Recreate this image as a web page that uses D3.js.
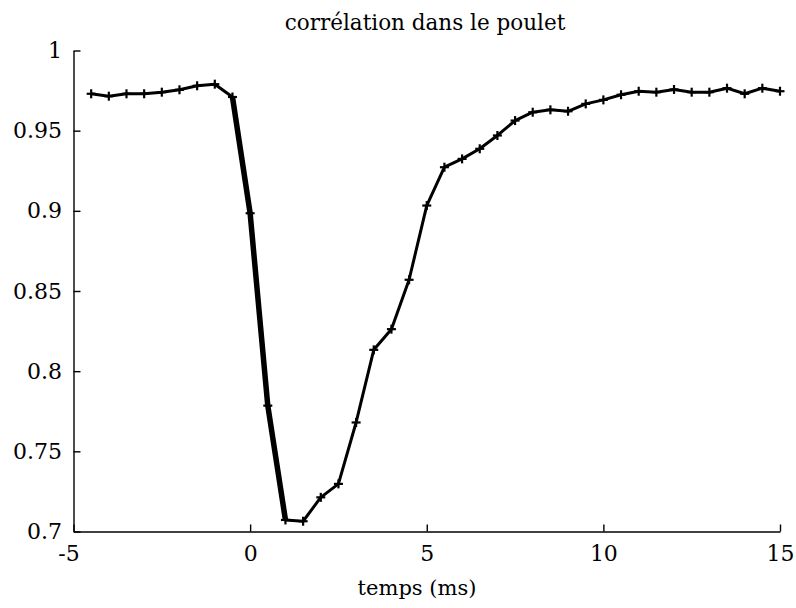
<!DOCTYPE html>
<html>
<head>
<meta charset="utf-8">
<script src="https://cdn.jsdelivr.net/npm/d3@7"></script>
<style>
  html, body { margin: 0; padding: 0; background: #fff; }
  svg { display: block; }
</style>
</head>
<body>
<svg id="chart" width="796" height="608"></svg>
<script>
// ---- data ----
const timeMs = [-4.5, -4.0, -3.5, -3.0, -2.5, -2.0, -1.5, -1.0, -0.5, 0.0,
                0.5, 1.0, 1.5, 2.0, 2.5, 3.0, 3.5, 4.0, 4.5, 5.0,
                5.5, 6.0, 6.5, 7.0, 7.5, 8.0, 8.5, 9.0, 9.5, 10.0,
                10.5, 11.0, 11.5, 12.0, 12.5, 13.0, 13.5, 14.0, 14.5, 15.0];
const correlation = [0.973, 0.9715, 0.973, 0.973, 0.974, 0.9755, 0.978, 0.979, 0.971, 0.8985,
                     0.7785, 0.7072, 0.7064, 0.7213, 0.7297, 0.768, 0.8133, 0.8262, 0.857, 0.9033,
                     0.9272, 0.9324, 0.9387, 0.947, 0.9563, 0.9615, 0.963, 0.9621, 0.9667, 0.9692,
                     0.9724, 0.9746, 0.974, 0.9757, 0.974, 0.974, 0.9765, 0.973, 0.9765, 0.9746];
const xTicks = [-5, 0, 5, 10, 15];
const yTicks = [0.7, 0.75, 0.8, 0.85, 0.9, 0.95, 1];
const xDomain = [-5, 15];
const yDomain = [0.7, 1];
const titleText = "corrélation dans le poulet";
const xLabelText = "temps (ms)";

// ---- layout ----
const svg = d3.select("#chart");
const plotLeft = 73.5, plotRight = 780, plotTop = 50.5, plotBottom = 531.5;
const titleSize = 21.5, xLabelSize = 21, tickSize = 22;
const fontFam = "'DejaVu Serif', serif";

const x = d3.scaleLinear().domain(xDomain).range([plotLeft, plotRight]);
const y = d3.scaleLinear().domain(yDomain).range([plotBottom, plotTop]);

// axes (MATLAB style inward ticks, no box)
const xAxis = d3.axisBottom(x).tickValues(xTicks).tickFormat(d => String(d))
  .tickSizeInner(-7).tickSizeOuter(0).tickPadding(14);
const yAxis = d3.axisLeft(y).tickValues(yTicks).tickFormat(d => String(d))
  .tickSizeInner(-7).tickSizeOuter(0).tickPadding(11.5);

const gx = svg.append("g").attr("transform", `translate(0,${plotBottom})`).call(xAxis);
const gy = svg.append("g").attr("transform", `translate(${plotLeft},0)`).call(yAxis);

[gx, gy].forEach(g => {
  g.select(".domain").attr("stroke", "#000").attr("stroke-width", 1.4);
  g.selectAll(".tick line").attr("stroke", "#000").attr("stroke-width", 1.4);
  g.selectAll(".tick text")
    .style("font-family", fontFam)
    .style("font-size", tickSize + "px")
    .attr("fill", "#000");
});
gx.selectAll(".tick text").attr("dx", d => d < 0 ? -5 : 0);

// title and axis label
svg.append("text").attr("x", 425).attr("y", 29.5)
  .attr("text-anchor", "middle")
  .style("font-family", fontFam).style("font-size", titleSize + "px")
  .attr("fill", "#000").text(titleText);
svg.append("text").attr("x", 417).attr("y", 595)
  .attr("text-anchor", "middle")
  .style("font-family", fontFam).style("font-size", xLabelSize + "px")
  .attr("fill", "#000").text(xLabelText);

// line
const pts = timeMs.map((t, i) => ({t, v: correlation[i]}));
const line = d3.line().x(d => x(d.t)).y(d => y(d.v));

svg.append("path").datum(pts)
  .attr("d", line).attr("fill", "none").attr("stroke", "#000")
  .attr("stroke-width", 3).attr("stroke-linejoin", "round");

// heavier stroke in the steep fall, as in the original render
const heavyFrom = -0.5, heavyTo = 1.0;
svg.append("path").datum(pts.filter(d => d.t >= heavyFrom && d.t <= heavyTo))
  .attr("d", line).attr("fill", "none").attr("stroke", "#000")
  .attr("stroke-width", 5.5).attr("stroke-linejoin", "round");

// '+' markers
const m = 4.5;
const mk = svg.append("g").attr("stroke", "#000").attr("stroke-width", 2.2);
pts.forEach(d => {
  const px = x(d.t), py = y(d.v);
  mk.append("line").attr("x1", px - m).attr("x2", px + m).attr("y1", py).attr("y2", py);
  mk.append("line").attr("x1", px).attr("x2", px).attr("y1", py - m).attr("y2", py + m);
});
</script>
</body>
</html>
